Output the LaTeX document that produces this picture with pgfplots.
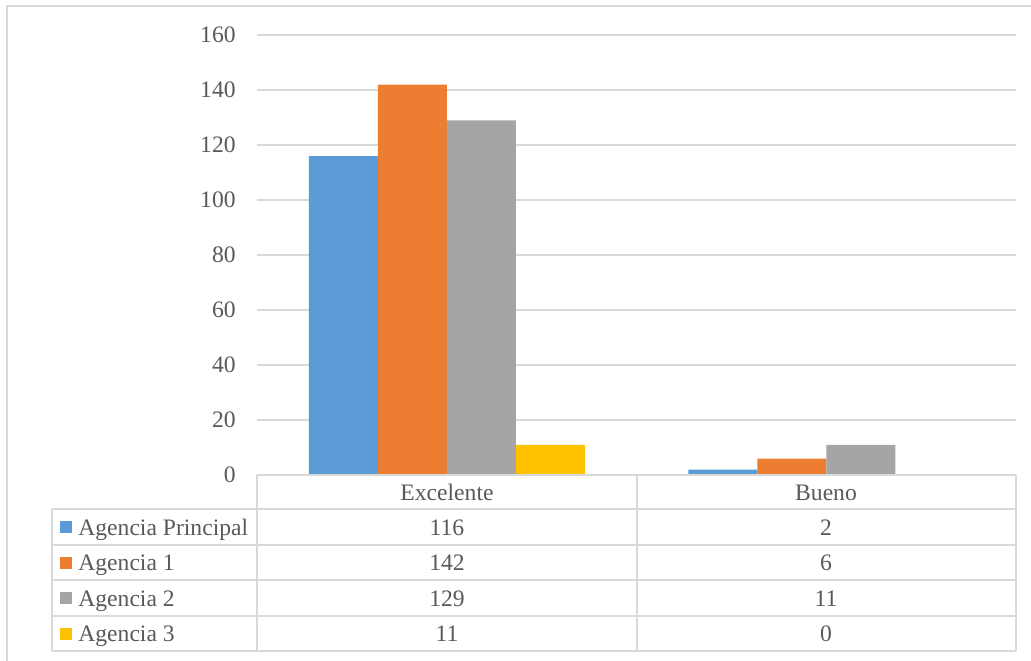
\documentclass[border=0pt]{standalone}
\usepackage{fontspec}
\setmainfont{Liberation Serif}
\usepackage{pgfplots}
\usepackage{pgfplotstable}
\pgfplotsset{compat=1.18}

\definecolor{cBlue}{HTML}{5B9BD5}
\definecolor{cOrange}{HTML}{ED7D31}
\definecolor{cGray}{HTML}{A5A5A5}
\definecolor{cYellow}{HTML}{FFC000}
\definecolor{cRule}{HTML}{D9D9D9}
\definecolor{cText}{HTML}{595959}

% category index, then one column per agency
\pgfplotstableread{
cat principal uno dos tres
0   116       142 129 11
1   2         6   11  0
}\datatable

\begin{document}
\begin{tikzpicture}[font=\fontsize{11.8}{14}\selectfont]
\useasboundingbox (0,0) rectangle (515.5pt,330pt);

\begin{axis}[
  at={(128.5pt,92.5pt)}, anchor=south west,
  scale only axis, width=379.5pt, height=220pt,
  xmin=-0.5, xmax=1.5, ymin=0, ymax=160,
  ytick={0,20,...,160}, xtick=\empty,
  ymajorgrids, grid style={cRule, line width=0.8pt},
  axis line style={draw=none},
  major tick length=0pt,
  ybar=0pt, bar width=34.5pt,
  /pgf/number format/assume math mode=true,
  yticklabel style={text=cText, anchor=east, inner sep=0pt, xshift=-10.5pt},
  clip=false,
]
\addplot[fill=cBlue, draw=none]   table[x=cat, y=principal] {\datatable};
\addplot[fill=cOrange, draw=none] table[x=cat, y=uno]       {\datatable};
\addplot[fill=cGray, draw=none]   table[x=cat, y=dos]       {\datatable};
\addplot[fill=cYellow, draw=none] table[x=cat, y=tres]      {\datatable};
\end{axis}

% data table below the plot, laid out in pixel-like units
\begin{scope}[x=0.5pt, y=-0.5pt, shift={(0pt,330pt)}]
  % outer chart frame
  \draw[cRule, line width=0.8pt] (7,700) -- (7,6) -- (1040,6);
  % grid of the data table
  \begin{scope}[cRule, line width=1pt]
    \draw (257,475) -- (1016,475);
    \foreach \yy in {509,545,580,616,651} \draw (52,\yy) -- (1016,\yy);
    \draw (52,509) -- (52,651);
    \foreach \xx in {257,637,1016} \draw (\xx,475) -- (\xx,651);
  \end{scope}
  % column headers
  \node[text=cText, anchor=base, inner sep=0pt] at (447,500) {Excelente};
  \node[text=cText, anchor=base, inner sep=0pt] at (826,500) {Bueno};
  % row labels with legend keys, and the values from the table
  \foreach \col/\lab/\clr/\yc in {principal/Agencia Principal/cBlue/527,
                                  uno/Agencia 1/cOrange/562.5,
                                  dos/Agencia 2/cGray/598,
                                  tres/Agencia 3/cYellow/633.5} {
    \fill[\clr] (60,\yc-6) rectangle (72,\yc+6);
    \node[text=cText, anchor=base west, inner sep=0pt] at (78,\yc+8) {\lab};
    \pgfplotstablegetelem{0}{\col}\of\datatable
    \node[text=cText, anchor=base, inner sep=0pt] at (447,\yc+8) {\pgfplotsretval};
    \pgfplotstablegetelem{1}{\col}\of\datatable
    \node[text=cText, anchor=base, inner sep=0pt] at (826,\yc+8) {\pgfplotsretval};
  }
\end{scope}
\end{tikzpicture}
\end{document}
